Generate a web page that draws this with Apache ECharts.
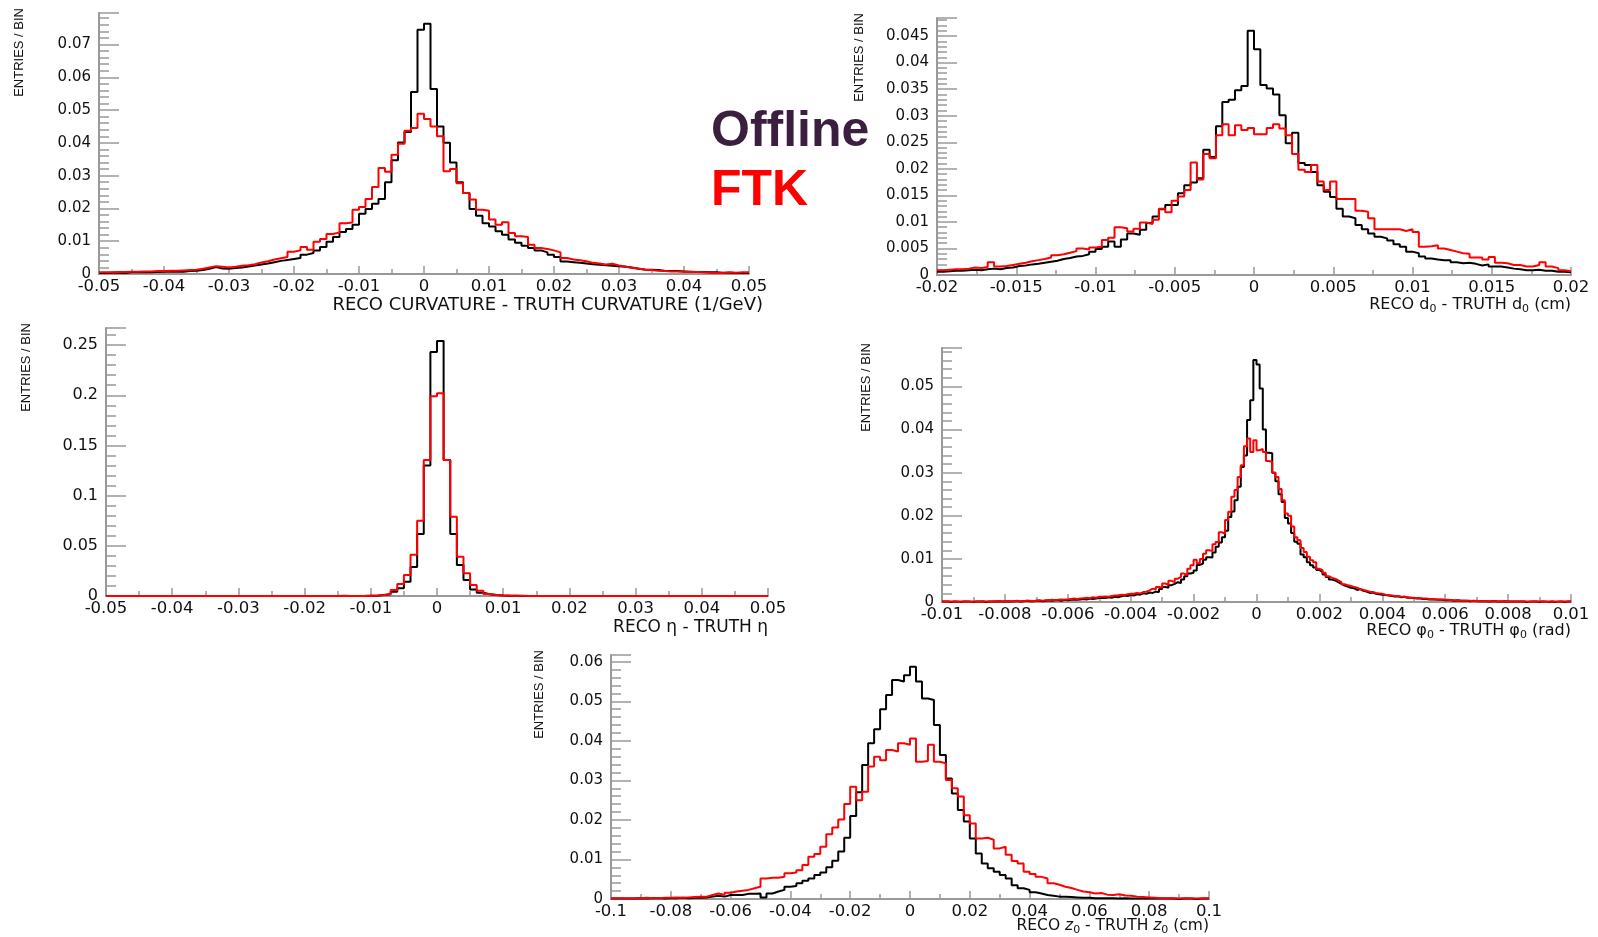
<!DOCTYPE html>
<html>
<head>
<meta charset="utf-8">
<script src="https://cdn.jsdelivr.net/npm/echarts@6/dist/echarts.min.js"></script>
<style>
  html, body { margin: 0; padding: 0; background: #fff; }
  #chart { width: 1598px; height: 937px; }
</style>
</head>
<body>
<div id="chart"></div>
<script>
// curvature residual, 100 bins of 0.001 from -0.05
const curvOffline = [
  0.0003,0.0004,0.0004,0.0003,0.0005,0.0005,0.0006,0.0005,0.0006,0.0007,
  0.0007,0.0008,0.0007,0.0009,0.0010,0.0012,0.0016,0.0021,0.0017,0.0016,
  0.0018,0.0020,0.0023,0.0026,0.0029,0.0032,0.0036,0.0040,0.0043,0.0046,
  0.0049,0.0059,0.0064,0.0072,0.0082,0.0098,0.0113,0.0128,0.0137,0.0150,
  0.0184,0.0198,0.0214,0.0229,0.0280,0.0347,0.0401,0.0433,0.0555,0.0745,
  0.0763,0.0564,0.0450,0.0400,0.0340,0.0280,0.0247,0.0198,0.0178,0.0155,
  0.0145,0.0130,0.0120,0.0105,0.0095,0.0086,0.0079,0.0072,0.0066,0.0059,
  0.0052,0.0038,0.0036,0.0034,0.0032,0.0030,0.0028,0.0027,0.0025,0.0024,
  0.0022,0.0020,0.0016,0.0014,0.0013,0.0012,0.0010,0.0009,0.0009,0.0008,
  0.0007,0.0006,0.0006,0.0005,0.0005,0.0004,0.0004,0.0003,0.0003,0.0003
];
const curvFTK = [
  0.0005,0.0005,0.0006,0.0006,0.0007,0.0007,0.0008,0.0008,0.0009,0.0009,
  0.0010,0.0010,0.0011,0.0012,0.0013,0.0016,0.0020,0.0024,0.0022,0.0020,
  0.0022,0.0025,0.0027,0.0030,0.0035,0.0039,0.0044,0.0048,0.0052,0.0068,
  0.0072,0.0082,0.0074,0.0098,0.0107,0.0122,0.0127,0.0155,0.0157,0.0196,
  0.0204,0.0229,0.0265,0.0323,0.0312,0.0364,0.0397,0.0437,0.0445,0.0489,
  0.0473,0.0450,0.0420,0.0313,0.0320,0.0277,0.0247,0.0227,0.0196,0.0193,
  0.0166,0.0150,0.0158,0.0125,0.0115,0.0113,0.0089,0.0079,0.0076,0.0072,
  0.0066,0.0049,0.0044,0.0042,0.0039,0.0034,0.0032,0.0029,0.0031,0.0026,
  0.0023,0.0018,0.0017,0.0013,0.0012,0.0010,0.0009,0.0008,0.0008,0.0007,
  0.0006,0.0006,0.0005,0.0004,0.0003,0.0003,0.0005,0.0004,0.0005,0.0005
];
const curvYTicks = [0, 0.01, 0.02, 0.03, 0.04, 0.05, 0.06, 0.07];

// d0 residual, 100 bins of 0.0004 from -0.02
const d0Offline = [
  0.0006,0.0007,0.0008,0.0008,0.0009,0.0010,0.0009,0.0011,0.0012,0.0011,
  0.0013,0.0014,0.0017,0.0018,0.0020,0.0021,0.0023,0.0025,0.0027,0.0030,
  0.0032,0.0035,0.0036,0.0039,0.0044,0.0049,0.0053,0.0063,0.0053,0.0067,
  0.0078,0.0076,0.0085,0.0098,0.0110,0.0124,0.0132,0.0132,0.0154,0.0169,
  0.0174,0.0182,0.0236,0.0222,0.0280,0.0326,0.0330,0.0348,0.0356,0.0460,
  0.0425,0.0358,0.0351,0.0340,0.0301,0.0248,0.0268,0.0211,0.0207,0.0194,
  0.0169,0.0157,0.0147,0.0125,0.0110,0.0107,0.0094,0.0086,0.0078,0.0072,
  0.0069,0.0065,0.0058,0.0053,0.0044,0.0041,0.0035,0.0031,0.0029,0.0028,
  0.0028,0.0024,0.0022,0.0023,0.0021,0.0018,0.0020,0.0016,0.0016,0.0014,
  0.0012,0.0011,0.0009,0.0009,0.0010,0.0008,0.0008,0.0006,0.0006,0.0005
];
const d0FTK = [
  0.0009,0.0010,0.0011,0.0011,0.0012,0.0014,0.0013,0.0015,0.0024,0.0016,
  0.0017,0.0019,0.0021,0.0023,0.0026,0.0028,0.0030,0.0033,0.0037,0.0039,
  0.0042,0.0045,0.0050,0.0048,0.0052,0.0053,0.0066,0.0070,0.0090,0.0088,
  0.0082,0.0087,0.0099,0.0096,0.0104,0.0125,0.0118,0.0140,0.0148,0.0160,
  0.0212,0.0180,0.0228,0.0220,0.0263,0.0284,0.0263,0.0282,0.0273,0.0277,
  0.0265,0.0265,0.0277,0.0284,0.0276,0.0263,0.0228,0.0198,0.0194,0.0207,
  0.0176,0.0160,0.0176,0.0143,0.0143,0.0143,0.0121,0.0119,0.0107,0.0086,
  0.0086,0.0086,0.0086,0.0083,0.0086,0.0081,0.0053,0.0054,0.0056,0.0050,
  0.0047,0.0044,0.0041,0.0040,0.0033,0.0033,0.0029,0.0034,0.0023,0.0022,
  0.0019,0.0019,0.0016,0.0016,0.0019,0.0024,0.0016,0.0013,0.0009,0.0007
];
const d0YTicks = [0, 0.005, 0.01, 0.015, 0.02, 0.025, 0.03, 0.035, 0.04, 0.045];

// eta residual, 100 bins of 0.001 from -0.05
const etaOffline = [
  0,0,0,0,0,0,0,0,0,0,
  0,0,0,0,0,0,0,0,0,0,
  0,0,0,0,0,0,0,0,0,0,
  0,0,0,0,0,0.0001,0,0.0001,0.0001,0.0002,
  0.0003,0.0010,0.0017,0.0043,0.0076,0.0143,0.0290,0.0618,0.1300,0.2430,
  0.2540,0.1355,0.0618,0.0309,0.0160,0.0066,0.0033,0.0017,0.0010,0.0005,
  0.0003,0.0002,0.0001,0.0001,0,0,0,0,0,0,
  0,0,0,0,0,0,0,0,0,0,
  0,0,0,0,0,0,0,0,0,0,
  0,0,0,0,0,0,0,0,0,0
];
const etaFTK = [
  0,0,0,0,0,0,0,0,0,0,
  0,0,0,0,0,0,0,0,0,0,
  0,0,0,0,0,0,0,0,0,0,
  0,0,0,0,0,0.0003,0.0001,0.0001,0.0001,0.0003,
  0.0004,0.0010,0.0020,0.0060,0.0120,0.0210,0.0410,0.0750,0.1355,0.1990,
  0.2020,0.1355,0.0790,0.0390,0.0226,0.0110,0.0053,0.0020,0.0010,0.0006,
  0.0004,0.0003,0.0002,0.0001,0,0,0,0,0,0,
  0,0,0,0,0,0,0,0,0,0,
  0,0,0,0,0,0,0,0,0,0,
  0,0,0,0,0,0,0,0,0,0
];
const etaYTicks = [0, 0.05, 0.1, 0.15, 0.2, 0.25];

// phi0 residual, 200 bins of 0.0001 from -0.01
const phiOffline = [
  0.0001,0.0001,0.0000,0.0001,0.0001,0.0000,0.0001,0.0001,0.0001,0.0000,
  0.0001,0.0001,0.0001,0.0000,0.0001,0.0001,0.0001,0.0002,0.0001,0.0001,
  0.0002,0.0001,0.0002,0.0002,0.0001,0.0002,0.0003,0.0002,0.0002,0.0003,
  0.0003,0.0002,0.0003,0.0004,0.0003,0.0004,0.0004,0.0003,0.0005,0.0004,
  0.0005,0.0006,0.0005,0.0006,0.0007,0.0006,0.0008,0.0007,0.0008,0.0009,
  0.0010,0.0009,0.0011,0.0010,0.0012,0.0011,0.0013,0.0015,0.0014,0.0016,
  0.0015,0.0018,0.0017,0.0020,0.0019,0.0022,0.0021,0.0024,0.0023,0.0030,
  0.0035,0.0033,0.0039,0.0042,0.0046,0.0044,0.0052,0.0060,0.0066,0.0068,
  0.0073,0.0086,0.0089,0.0098,0.0104,0.0103,0.0115,0.0128,0.0138,0.0150,
  0.0165,0.0197,0.0210,0.0236,0.0267,0.0313,0.0340,0.0422,0.0468,0.0561,
  0.0551,0.0495,0.0400,0.0346,0.0345,0.0300,0.0280,0.0250,0.0232,0.0195,
  0.0182,0.0160,0.0140,0.0135,0.0110,0.0104,0.0092,0.0085,0.0080,0.0074,
  0.0070,0.0064,0.0058,0.0052,0.0050,0.0046,0.0042,0.0038,0.0036,0.0033,
  0.0032,0.0028,0.0030,0.0026,0.0024,0.0021,0.0022,0.0019,0.0018,0.0017,
  0.0016,0.0015,0.0014,0.0013,0.0013,0.0011,0.0012,0.0010,0.0010,0.0009,
  0.0008,0.0008,0.0007,0.0007,0.0006,0.0006,0.0006,0.0005,0.0005,0.0004,
  0.0004,0.0004,0.0003,0.0004,0.0003,0.0003,0.0003,0.0002,0.0003,0.0002,
  0.0002,0.0002,0.0002,0.0001,0.0002,0.0002,0.0001,0.0001,0.0002,0.0001,
  0.0001,0.0001,0.0001,0.0001,0.0001,0.0000,0.0001,0.0001,0.0001,0.0000,
  0.0001,0.0001,0.0000,0.0001,0.0000,0.0001,0.0001,0.0000,0.0001,0.0001
];
const phiFTK = [
  0.0001,0.0001,0.0001,0.0001,0.0000,0.0001,0.0001,0.0001,0.0000,0.0001,
  0.0001,0.0001,0.0002,0.0001,0.0001,0.0001,0.0002,0.0001,0.0002,0.0002,
  0.0001,0.0002,0.0002,0.0003,0.0002,0.0002,0.0003,0.0003,0.0002,0.0003,
  0.0004,0.0003,0.0004,0.0004,0.0005,0.0004,0.0005,0.0006,0.0005,0.0006,
  0.0007,0.0008,0.0007,0.0008,0.0009,0.0010,0.0009,0.0011,0.0010,0.0012,
  0.0012,0.0013,0.0012,0.0014,0.0015,0.0015,0.0017,0.0016,0.0018,0.0019,
  0.0019,0.0021,0.0020,0.0023,0.0024,0.0027,0.0031,0.0029,0.0035,0.0033,
  0.0043,0.0040,0.0049,0.0046,0.0054,0.0058,0.0066,0.0062,0.0077,0.0085,
  0.0098,0.0090,0.0100,0.0112,0.0120,0.0118,0.0134,0.0139,0.0162,0.0158,
  0.0190,0.0209,0.0244,0.0260,0.0290,0.0317,0.0361,0.0379,0.0348,0.0375,
  0.0352,0.0355,0.0348,0.0327,0.0325,0.0300,0.0290,0.0262,0.0236,0.0205,
  0.0200,0.0175,0.0150,0.0143,0.0125,0.0116,0.0105,0.0097,0.0092,0.0077,
  0.0074,0.0068,0.0060,0.0056,0.0054,0.0050,0.0046,0.0041,0.0039,0.0037,
  0.0035,0.0033,0.0030,0.0028,0.0026,0.0024,0.0023,0.0021,0.0020,0.0019,
  0.0017,0.0016,0.0015,0.0014,0.0014,0.0012,0.0012,0.0011,0.0010,0.0010,
  0.0009,0.0009,0.0008,0.0008,0.0007,0.0007,0.0006,0.0006,0.0006,0.0005,
  0.0005,0.0004,0.0004,0.0004,0.0003,0.0003,0.0003,0.0003,0.0002,0.0003,
  0.0002,0.0002,0.0002,0.0002,0.0001,0.0002,0.0001,0.0002,0.0001,0.0001,
  0.0001,0.0001,0.0001,0.0001,0.0001,0.0001,0.0000,0.0001,0.0001,0.0001,
  0.0001,0.0000,0.0001,0.0001,0.0001,0.0000,0.0001,0.0001,0.0001,0.0001
];
const phiYTicks = [0, 0.01, 0.02, 0.03, 0.04, 0.05];

// z0 residual, 100 bins of 0.002 from -0.1
const z0Offline = [
  0.0001,0.0001,0.0001,0.0001,0.0002,0.0001,0.0002,0.0002,0.0001,0.0002,
  0.0002,0.0003,0.0002,0.0003,0.0003,0.0004,0.0006,0.0008,0.0006,0.0010,
  0.0010,0.0010,0.0013,0.0013,0.0014,0.0004,0.0014,0.0019,0.0023,0.0031,
  0.0033,0.0040,0.0046,0.0052,0.0061,0.0067,0.0080,0.0097,0.0120,0.0155,
  0.0210,0.0270,0.0339,0.0394,0.0429,0.0480,0.0516,0.0554,0.0550,0.0566,
  0.0587,0.0550,0.0507,0.0503,0.0440,0.0364,0.0305,0.0267,0.0225,0.0196,
  0.0153,0.0115,0.0090,0.0078,0.0069,0.0061,0.0052,0.0035,0.0027,0.0023,
  0.0017,0.0014,0.0010,0.0008,0.0006,0.0006,0.0005,0.0004,0.0003,0.0003,
  0.0002,0.0002,0.0002,0.0002,0.0001,0.0002,0.0001,0.0001,0.0001,0.0001,
  0.0001,0.0001,0.0001,0.0001,0.0000,0.0001,0.0001,0.0000,0.0001,0.0001
];
const z0FTK = [
  0.0002,0.0002,0.0001,0.0002,0.0002,0.0003,0.0002,0.0002,0.0003,0.0003,
  0.0004,0.0003,0.0004,0.0005,0.0006,0.0006,0.0010,0.0014,0.0010,0.0016,
  0.0019,0.0021,0.0023,0.0027,0.0031,0.0052,0.0054,0.0054,0.0056,0.0065,
  0.0067,0.0073,0.0086,0.0107,0.0114,0.0132,0.0164,0.0181,0.0201,0.0240,
  0.0284,0.0250,0.0271,0.0335,0.0360,0.0351,0.0377,0.0373,0.0394,0.0390,
  0.0406,0.0347,0.0349,0.0390,0.0347,0.0343,0.0301,0.0280,0.0259,0.0212,
  0.0191,0.0153,0.0155,0.0150,0.0128,0.0132,0.0112,0.0096,0.0090,0.0069,
  0.0063,0.0056,0.0052,0.0040,0.0036,0.0031,0.0028,0.0023,0.0019,0.0017,
  0.0014,0.0015,0.0011,0.0010,0.0012,0.0009,0.0008,0.0006,0.0005,0.0004,
  0.0003,0.0002,0.0002,0.0002,0.0001,0.0002,0.0001,0.0001,0.0002,0.0001
];
const z0YTicks = [0, 0.01, 0.02, 0.03, 0.04, 0.05, 0.06];

const seriesNames = ['Offline', 'FTK'];
const seriesColors = ['#000000', '#ff0000'];
const yName = 'ENTRIES / BIN';

const axisGray = '#999999';
const labelFont = 'DejaVu Sans';

// panel layout in pixels + binning
const panels = [
  { off: curvOffline, ftk: curvFTK, xMin: -0.05, xMax: 0.05, binW: 0.001, xStep: 0.01,
    yMax: 0.0796, yStep: 0.01, yTicks: curvYTicks, yLabelSize: 15,
    box: { left: 99, top: 13, width: 650, height: 261 }, nameDx: 80, titleDx: 14, titleDy: 31, titleSize: 18,
    title: '{a|RECO CURVATURE - TRUTH CURVATURE (1/GeV)}' },
  { off: d0Offline, ftk: d0FTK, xMin: -0.02, xMax: 0.02, binW: 0.0004, xStep: 0.005,
    yMax: 0.0484, yStep: 0.005, yTicks: d0YTicks, yLabelSize: 15,
    box: { left: 937, top: 18, width: 634, height: 257 }, nameDx: 78, titleDx: 0, titleDy: 30, titleSize: 16,
    title: '{a|RECO d}{s|0}{a| - TRUTH d}{s|0}{a| (cm)}' },
  { off: etaOffline, ftk: etaFTK, xMin: -0.05, xMax: 0.05, binW: 0.001, xStep: 0.01,
    yMax: 0.267, yStep: 0.05, yTicks: etaYTicks, yLabelSize: 16,
    box: { left: 106, top: 328, width: 662, height: 268 }, nameDx: 80, titleDx: 0, titleDy: 32, titleSize: 17,
    title: '{a|RECO η - TRUTH η}' },
  { off: phiOffline, ftk: phiFTK, xMin: -0.01, xMax: 0.01, binW: 0.0001, xStep: 0.002,
    yMax: 0.0589, yStep: 0.01, yTicks: phiYTicks, yLabelSize: 15,
    box: { left: 942, top: 348, width: 629, height: 254 }, nameDx: 76, titleDx: 0, titleDy: 29, titleSize: 16,
    title: '{a|RECO φ}{s|0}{a| - TRUTH φ}{s|0}{a| (rad)}' },
  { off: z0Offline, ftk: z0FTK, xMin: -0.1, xMax: 0.1, binW: 0.002, xStep: 0.02,
    yMax: 0.0617, yStep: 0.01, yTicks: z0YTicks, yLabelSize: 15,
    box: { left: 611, top: 655, width: 598, height: 244 }, nameDx: 72, titleDx: 0, titleDy: 27, titleSize: 15.5,
    title: '{a|RECO }{i|z}{s|0}{a| - TRUTH }{i|z}{s|0}{a| (cm)}' }
];

function fmt(v) {
  return String(+(+v).toFixed(6));
}

// histogram outline: left edge of each bin, plus closing right edge
function stepData(values, xMin, binW) {
  const pts = values.map((v, k) => [+(xMin + k * binW).toFixed(6), v]);
  pts.push([+(xMin + values.length * binW).toFixed(6), values[values.length - 1]]);
  return pts;
}

const grid = [], xAxis = [], yAxis = [], series = [], graphic = [];

panels.forEach((p, i) => {
  grid.push({
    left: p.box.left, top: p.box.top, width: p.box.width, height: p.box.height,
    outerBoundsMode: 'none', containLabel: false
  });
  xAxis.push({
    type: 'value', gridIndex: i, min: p.xMin, max: p.xMax, interval: p.xStep,
    axisLine: { show: true, onZero: false, lineStyle: { color: axisGray, width: 2 } },
    axisTick: { show: true, inside: true, length: 8, lineStyle: { color: axisGray, width: 1.5 } },
    minorTick: { show: true, splitNumber: 2, length: 5, lineStyle: { color: axisGray, width: 1.5 } },
    splitLine: { show: false },
    axisLabel: { color: '#111', fontFamily: labelFont, fontSize: 16.5, margin: 4, formatter: fmt,
                 showMinLabel: true, showMaxLabel: true, hideOverlap: false }
  });
  yAxis.push({
    type: 'value', gridIndex: i, min: 0, max: p.yMax, interval: p.yStep,
    axisLine: { show: true, onZero: false, lineStyle: { color: axisGray, width: 2 } },
    axisTick: { show: true, inside: true, length: 20, lineStyle: { color: axisGray, width: 1.5 } },
    minorTick: { show: true, splitNumber: 5, length: 10, lineStyle: { color: axisGray, width: 1.5 } },
    splitLine: { show: false },
    axisLabel: { color: '#111', fontFamily: labelFont, fontSize: p.yLabelSize, margin: 8,
                 customValues: p.yTicks, formatter: fmt, hideOverlap: false }
  });
  [p.off, p.ftk].forEach((vals, s) => {
    series.push({
      name: seriesNames[s], type: 'line', step: 'end',
      xAxisIndex: i, yAxisIndex: i,
      showSymbol: false, symbol: 'none',
      lineStyle: { color: seriesColors[s], width: 2 },
      itemStyle: { color: seriesColors[s] },
      z: 3 + s,
      data: stepData(vals, p.xMin, p.binW)
    });
  });
  graphic.push({
    type: 'text', x: p.box.left - p.nameDx, y: p.box.top - 5, rotation: Math.PI / 2,
    style: { text: yName, fill: '#111', font: '13px "Liberation Sans"',
             align: 'right', textAlign: 'right', verticalAlign: 'middle', textVerticalAlign: 'middle' }
  });
  graphic.push({
    type: 'text', x: p.box.left + p.box.width + p.titleDx, y: p.box.top + p.box.height + p.titleDy,
    style: {
      text: p.title, fill: '#111',
      align: 'right', textAlign: 'right', verticalAlign: 'middle', textVerticalAlign: 'middle',
      rich: {
        a: { fontFamily: labelFont, fontSize: p.titleSize, fill: '#111' },
        i: { fontFamily: labelFont, fontSize: p.titleSize, fontStyle: 'italic', fill: '#111' },
        s: { fontFamily: labelFont, fontSize: 11, fill: '#111', padding: [9, 0, 0, 0] }
      }
    }
  });
});

const myChart = echarts.init(document.getElementById('chart'));
myChart.setOption({
  animation: false,
  backgroundColor: '#ffffff',
  legend: {
    left: 701, top: 102, orient: 'vertical', itemGap: 9,
    icon: 'none', itemWidth: 0, itemHeight: 0, selectedMode: false,
    data: [
      { name: 'Offline', textStyle: { color: '#3b1f3e' } },
      { name: 'FTK', textStyle: { color: '#ff0000' } }
    ],
    textStyle: { fontFamily: 'Liberation Sans', fontWeight: 'bold', fontSize: 50 }
  },
  grid: grid,
  xAxis: xAxis,
  yAxis: yAxis,
  graphic: graphic,
  series: series
});
</script>
</body>
</html>
